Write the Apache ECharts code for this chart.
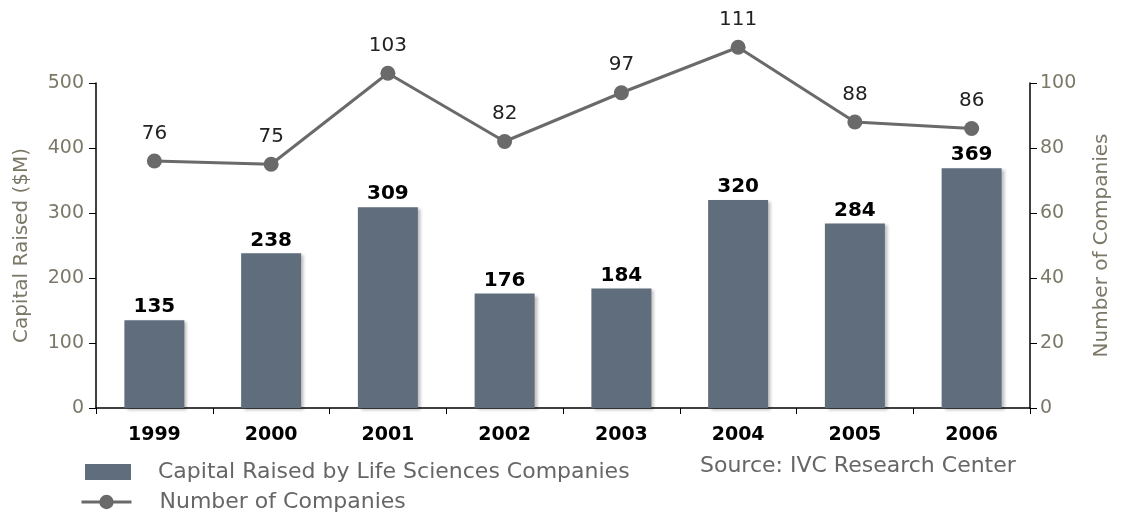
<!DOCTYPE html>
<html><head><meta charset="utf-8">
<script src="https://cdn.jsdelivr.net/npm/echarts@6/dist/echarts.min.js"></script>
<style>html,body{margin:0;padding:0;background:#fff}#c{width:1122px;height:512px}</style>
</head><body><div id="c"></div>
<script>
var years = ['1999','2000','2001','2002','2003','2004','2005','2006'];
var capital = [135, 238, 309, 176, 184, 320, 284, 369];
var companies = [76, 75, 103, 82, 97, 111, 88, 86];
var leftTicks = [0, 100, 200, 300, 400, 500];
var rightTicks = [0, 20, 40, 60, 80, 100];
var barName = 'Capital Raised by Life Sciences Companies';
var lineName = 'Number of Companies';
var sourceText = 'Source: IVC Research Center';

var FF = '"DejaVu Sans", sans-serif';
var chart = echarts.init(document.getElementById('c'));
var axisGray = '#7b7868';
var legendText = {fontFamily: FF, fontSize: 22, color: '#666666'};
chart.setOption({
  animation: false,
  grid: {left: 96, right: 92, top: 83, bottom: 104},
  legend: [{
    left: 80, top: 456, itemWidth: 46, itemHeight: 16,
    textStyle: Object.assign({padding: [0,0,0,22]}, legendText),
    data: [{name: barName, icon: 'rect'}]
  }, {
    left: 75, top: 486, itemWidth: 50, itemHeight: 18,
    lineStyle: {width: 3},
    textStyle: Object.assign({padding: [0,0,0,23]}, legendText),
    data: [{name: lineName}]
  }],
  graphic: [{type: 'text', left: 700, top: 455, style: {text: sourceText, font: '22px "DejaVu Sans", sans-serif', fill: '#666666'}}],
  xAxis: {
    type: 'category', data: years,
    axisLine: {lineStyle: {color: '#000', width: 1.5}},
    axisTick: {show: true, length: 6, lineStyle: {color: '#000'}},
    axisLabel: {color: '#000', fontWeight: 'bold', fontSize: 19, fontFamily: FF, margin: 18}
  },
  yAxis: [{
    type: 'value', min: 0, max: 500, interval: 100,
    name: 'Capital Raised ($M)', nameLocation: 'middle', nameGap: 64,
    nameTextStyle: {color: axisGray, fontSize: 20, fontFamily: FF},
    axisLine: {show: true, lineStyle: {color: '#000', width: 1.5}},
    axisTick: {show: true, length: 7, lineStyle: {color: '#000'}},
    axisLabel: {color: axisGray, fontSize: 19, fontFamily: FF, margin: 12},
    splitLine: {show: false}
  }, {
    type: 'value', min: 0, max: 100, interval: 20, position: 'right',
    name: 'Number of Companies', nameLocation: 'middle', nameGap: 62, nameRotate: 90,
    nameTextStyle: {color: axisGray, fontSize: 20, fontFamily: FF},
    axisLine: {show: true, lineStyle: {color: '#000', width: 1.5}},
    axisTick: {show: true, length: 7, lineStyle: {color: '#000'}},
    axisLabel: {color: axisGray, fontSize: 19, fontFamily: FF, margin: 10},
    splitLine: {show: false}
  }],
  series: [{
    name: barName, type: 'bar', data: capital,
    barWidth: 60,
    itemStyle: {color: '#5f6d7c', shadowColor: 'rgba(0,0,0,0.25)', shadowBlur: 3, shadowOffsetX: 3, shadowOffsetY: 2},
    label: {show: true, position: 'top', color: '#000', fontWeight: 'bold', fontSize: 20, fontFamily: FF, distance: 3}
  }, {
    name: lineName, type: 'line', yAxisIndex: 1, data: companies,
    clip: false,
    symbol: 'circle', symbolSize: 15,
    lineStyle: {color: '#6a6a6a', width: 3},
    itemStyle: {color: '#6a6a6a'},
    label: {show: true, position: 'top', distance: 10, color: '#222', fontSize: 20, fontFamily: FF}
  }]
});
</script></body></html>
